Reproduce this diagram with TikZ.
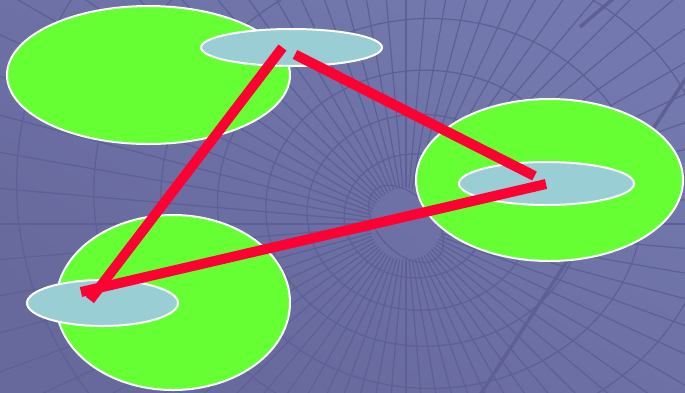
\documentclass[tikz,border=0pt]{standalone}
\usetikzlibrary{shapes.geometric}
\definecolor{bgtop}{RGB}{115,121,174}
\definecolor{bgbot}{RGB}{103,104,156}
\definecolor{web}{RGB}{94,95,148}
\definecolor{grn}{RGB}{102,255,51}
\definecolor{pale}{RGB}{153,206,212}
\definecolor{redl}{RGB}{255,0,51}
\tikzset{
  greenblob/.style={ellipse, draw=white, line width=2pt, fill=grn, inner sep=0pt, outer sep=0pt},
  blueblob/.style={ellipse, draw=white, line width=2pt, fill=pale, inner sep=0pt, outer sep=0pt},
  link/.style={draw=redl, line width=10pt, line cap=butt},
  webline/.style={draw=web, line width=1.2pt},
  webthick/.style={draw=web, line width=3.5pt},
}
\begin{document}
\begin{tikzpicture}[x=1pt,y=-1pt]
\useasboundingbox (0,0) rectangle (685,392);
\shade[top color=bgtop, bottom color=bgbot, shading angle=-30] (0,0) rectangle (685,392);
% background web
\begin{scope}
  \clip (0,0) rectangle (685,392);
  \foreach \a in {0,5,...,355}
    \draw[webline] (406,224) ++(\a:36) -- ++(\a:900);
  \foreach \r in {62,98,138,185,240,305,380,465,560}
    \draw[webline] ({408+0.12*\r},{222-0.10*\r}) ellipse [x radius={1.15*\r}, y radius={\r}];
  \draw[webline, rotate around={-47:(406,224)}] (406,224) ellipse [x radius=46, y radius=28];
  \draw[webthick] (480,395) -- (690,72);
  \draw[webthick] (580,27) -- (614,-2);
\end{scope}
% green ellipses
\node[greenblob, minimum width=283pt, minimum height=138pt] (g1) at (148.5,75) {};
\node[greenblob, minimum width=267pt, minimum height=162pt] (g2) at (549.5,180) {};
\node[greenblob, minimum width=234pt, minimum height=175pt] (g3) at (173,302.5) {};
% blue ellipses
\node[blueblob, minimum width=181pt, minimum height=37pt] (b1) at (291.5,47.5) {};
\node[blueblob, minimum width=175pt, minimum height=43pt] (b2) at (546.5,183.5) {};
\node[blueblob, minimum width=151pt, minimum height=46pt] (b3) at (102.5,303) {};
% link end points
\coordinate (a1) at (282.5,47.5);
\coordinate (a2) at (90,300);
\coordinate (c1) at (295,54.5);
\coordinate (c2) at (534.5,176);
\coordinate (d1) at (81,292);
\coordinate (d2) at (546,184);
\draw[link] (a1) -- (a2);
\draw[link] (c1) -- (c2);
\draw[link] (d1) -- (d2);
\end{tikzpicture}
\end{document}
